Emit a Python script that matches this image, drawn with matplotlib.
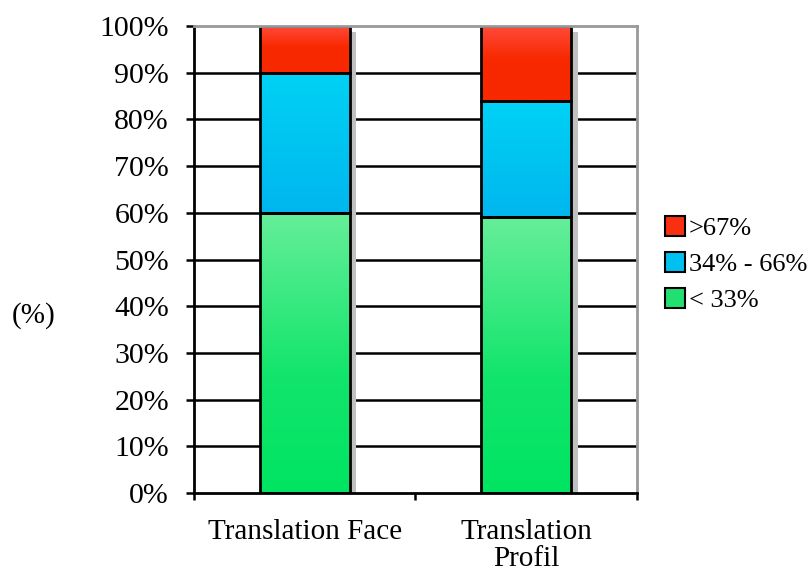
import numpy as np
import matplotlib.pyplot as plt
from matplotlib.colors import LinearSegmentedColormap
from matplotlib.patches import Patch, Rectangle

plt.rcParams['font.family'] = ['Liberation Serif', 'DejaVu Serif']

categories = ["Translation Face", "Translation\nProfil"]
low = [60, 59]      # < 33%
mid = [30, 25]      # 34% - 66%
high = [10, 16]     # >67%
series = [("< 33%", low), ("34% - 66%", mid), (">67%", high)]

# gradient stops (position from bottom, colour) for each series
grad = {
    "< 33%": [(0, "#00e462"), (0.42, "#12e56c"), (1, "#66ee99")],
    "34% - 66%": [(0, "#00b6ee"), (1, "#00d2f5")],
    ">67%": [(0, "#f82800"), (0.55, "#f82800"), (1, "#ff4a3a")],
}
solid = {"< 33%": "#22e070", "34% - 66%": "#00c0f0", ">67%": "#f83010"}

fig = plt.figure(figsize=(8.12, 5.76), dpi=100)
ax = fig.add_axes([194 / 812, 83 / 576, 443 / 812, 467 / 576])

width = 0.405
x = np.arange(len(categories))
bottoms = np.zeros(len(categories))
for name, vals in series:
    cmap = LinearSegmentedColormap.from_list(name, grad[name])
    g = np.linspace(0, 1, 256).reshape(-1, 1)
    for i, v in enumerate(vals):
        b = bottoms[i]
        # shadow
        ax.add_patch(Rectangle((x[i] - width / 2 + 0.03, b - 1.3), width, v,
                               facecolor="#c0c0c0", edgecolor="none", zorder=2))
        ax.imshow(g, cmap=cmap, origin="lower", aspect="auto",
                  extent=(x[i] - width / 2, x[i] + width / 2, b, b + v), zorder=3)
        ax.add_patch(Rectangle((x[i] - width / 2, b), width, v, facecolor="none",
                               edgecolor="black", lw=2, zorder=4))
    bottoms += np.array(vals)

ax.set_xlim(-0.5, 1.5)
ax.set_ylim(0, 100)

for yv in range(10, 100, 10):
    ax.axhline(yv, color="black", lw=1.8, zorder=1)

ax.set_yticks(range(0, 101, 10))
ax.set_yticklabels([f"{v}%" for v in range(0, 101, 10)], fontsize=21.5)
ax.tick_params(axis="y", direction="out", length=6, width=1.8, pad=12)

ax.set_xticks([-0.5, 0.5, 1.5])
ax.set_xticklabels([])
ax.set_xticks(x, minor=True)
ax.set_xticklabels(categories, minor=True, fontsize=21, linespacing=1.05)
ax.tick_params(axis="x", which="major", direction="out", length=5, width=1.8)
ax.tick_params(axis="x", which="minor", length=0, pad=19)

for s in ["left", "bottom"]:
    ax.spines[s].set_linewidth(2)
    ax.spines[s].set_color("black")
for s in ["top", "right"]:
    ax.spines[s].set_linewidth(2)
    ax.spines[s].set_color("#999999")
for s in ax.spines.values():
    s.set_zorder(5)

fig.text(34 / 812, 260 / 576, "(%)", fontsize=21, ha="center", va="center")

handles = [Patch(facecolor=solid[n], edgecolor="black", lw=1.5, label=n)
           for n, _ in series[::-1]]
fig.legend(handles=handles, loc="center left", bbox_to_anchor=(665 / 812, 312 / 576),
           frameon=False, fontsize=19, handlelength=0.75, handleheight=0.8,
           handletextpad=0.15, labelspacing=0.45, borderaxespad=0, borderpad=0)

fig.savefig("out.png", dpi=100)
